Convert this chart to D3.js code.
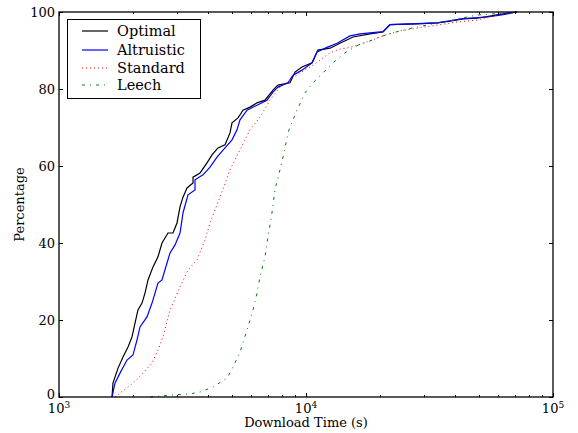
<!DOCTYPE html>
<html>
<head>
<meta charset="utf-8">
<script src="https://cdn.jsdelivr.net/npm/d3@7"></script>
<style>
  html, body { margin: 0; padding: 0; background: #fff; }
  svg { display: block; font-family: "DejaVu Serif", serif; }
</style>
</head>
<body>
<svg id="chart" width="578" height="433"></svg>
<script>
// Cumulative download-time distributions: [time in seconds, percentage]
const optimal = [
  [1639,0],[1654,3.6],[1734,7.5],[1816,10.4],[1903,13.0],[1975,15.6],[2031,19.2],
  [2088,22.6],[2168,24.4],[2229,27.0],[2293,30.4],[2402,33.8],[2516,36.4],[2612,40.0],
  [2763,42.6],[2894,42.6],[3004,45.2],[3090,49.4],[3177,51.9],[3298,54.3],[3488,55.6],
  [3488,57.1],[3724,58.2],[3974,60.8],[4164,62.9],[4403,64.7],[4700,65.5],[4924,68.6],
  [5017,71.2],[5306,72.5],[5559,74.5],[5934,75.3],[6334,76.4],[6823,77.1],[7350,79.7],
  [7700,81.0],[8614,81.6],[9027,84.4],[9634,85.7],[10580,86.8],[11180,90.1],[12510,90.6],
  [13730,91.9],[15500,93.5],[18160,94.3],[20500,94.8],[21880,96.7],[28140,96.9],
  [33920,97.2],[38280,97.6],[43220,98.2],[49240,98.4],[54060,98.8],[61010,99.4],[71500,100]
];
const altruistic = [
  [1639,0],[1685,3.6],[1766,6.2],[1885,9.6],[1993,10.9],[2069,14.8],[2128,18.2],
  [2271,20.8],[2380,24.4],[2516,29.6],[2612,30.4],[2737,34.8],[2815,37.4],[2949,39.5],
  [3090,42.6],[3177,47.8],[3329,52.5],[3553,53.8],[3553,56.4],[3828,57.7],[4087,59.7],
  [4362,62.3],[4700,64.7],[5017,66.8],[5256,69.4],[5406,72.0],[5770,74.5],[6334,75.8],
  [6951,77.1],[7350,79.2],[7700,80.5],[8454,81.6],[8860,83.6],[9634,84.9],[10580,86.8],
  [11080,89.6],[12160,90.8],[13360,91.9],[15070,93.8],[16550,94.3],[18160,94.6],
  [20500,94.9],[21880,96.7],[33920,97.2],[43220,98.3],[54060,98.7],[61010,99.2],[71500,100]
];
const standard = [
  [1685,0],[1993,3.6],[2188,6.2],[2380,8.8],[2516,12.2],[2636,15.6],[2815,22.6],
  [3090,28.6],[3329,33.0],[3620,35.6],[3901,40.8],[4087,45.2],[4485,51.9],[4924,59.0],
  [5406,64.2],[5934,69.4],[6514,72.7],[7148,77.1],[7846,80.5],[8614,82.3],[9456,84.2],
  [10380,85.7],[11390,87.5],[12510,89.4],[13730,90.4],[15070,90.8],[16550,91.6],
  [18160,92.5],[20500,93.8],[24020,95.1],[28140,95.8],[33920,96.6],[40870,97.4],
  [49240,97.9],[57170,99.0],[62740,99.7],[71500,100]
];
const leech = [
  [2336,0],[2815,0.5],[3392,0.8],[3724,1.3],[4203,2.6],[4789,4.9],[5064,7.8],[5406,11.7],
  [5770,17.4],[6102,22.6],[6334,27.0],[6514,31.2],[6823,36.4],[7016,41.6],[7281,47.8],
  [7488,53.8],[7846,59.0],[8068,62.3],[8222,64.7],[8454,68.6],[8614,70.1],[9196,74.5],
  [9908,79.0],[10670,81.6],[11720,84.2],[12860,86.8],[14390,89.4],[16240,91.4],
  [18160,92.5],[20500,93.8],[24020,95.1],[28140,96.1],[33920,97.1],[38280,97.7],
  [44860,98.7],[49240,99.2],[57170,99.5],[71500,100]
];

const seriesNames = ["Optimal", "Altruistic", "Standard", "Leech"];
const xMajorTicks = [1e3, 1e4, 1e5];
const xTickExponents = ["3", "4", "5"];
const yTicks = [0, 20, 40, 60, 80, 100];

const styles = [
  { color: "#000000", dash: null, width: 1.2 },
  { color: "#0000ff", dash: null, width: 1.2 },
  { color: "#ff0000", dash: "1,3", width: 1 },
  { color: "#008000", dash: "3,5,1,5", width: 1 }
];
const allSeries = [optimal, altruistic, standard, leech];

const svg = d3.select("#chart");
const m = { left: 59, right: 553, top: 12, bottom: 397 };

const x = d3.scaleLog().domain([1e3, 1e5]).range([m.left, m.right]);
const y = d3.scaleLinear().domain([0, 100]).range([m.bottom, m.top]);

// Curves
const line = d3.line().x(d => x(d[0])).y(d => y(d[1]));
const plot = svg.append("g");
allSeries.forEach((s, i) => {
  plot.append("path")
    .datum(s)
    .attr("fill", "none")
    .attr("stroke", styles[i].color)
    .attr("stroke-width", styles[i].width)
    .attr("stroke-dasharray", styles[i].dash)
    .attr("d", line);
});

// Ticks (inward, on all four sides)
const minorTicks = [];
[1e3, 1e4].forEach(d => { for (let k = 2; k <= 9; k++) minorTicks.push(d * k); });
const tg = svg.append("g").attr("stroke", "#000").attr("stroke-width", 1);
minorTicks.forEach(v => {
  const px = Math.round(x(v)) + 0.5;
  tg.append("line").attr("x1", px).attr("x2", px).attr("y1", m.bottom).attr("y2", m.bottom - 2);
  tg.append("line").attr("x1", px).attr("x2", px).attr("y1", m.top).attr("y2", m.top + 2);
});
xMajorTicks.forEach(v => {
  const px = Math.round(x(v)) + 0.5;
  tg.append("line").attr("x1", px).attr("x2", px).attr("y1", m.bottom).attr("y2", m.bottom - 4);
  tg.append("line").attr("x1", px).attr("x2", px).attr("y1", m.top).attr("y2", m.top + 4);
});
yTicks.forEach(v => {
  const py = Math.round(y(v)) + 0.5;
  tg.append("line").attr("x1", m.left).attr("x2", m.left + 4).attr("y1", py).attr("y2", py);
  tg.append("line").attr("x1", m.right).attr("x2", m.right - 4).attr("y1", py).attr("y2", py);
});

// Frame
svg.append("rect")
  .attr("x", m.left).attr("y", m.top)
  .attr("width", m.right - m.left).attr("height", m.bottom - m.top)
  .attr("fill", "none").attr("stroke", "#000").attr("stroke-width", 1.3);

// Tick labels
const xl = svg.append("g").attr("font-size", 13).attr("fill", "#000");
xMajorTicks.forEach((v, i) => {
  const t = xl.append("text").attr("x", x(v)).attr("y", 413).attr("text-anchor", "middle");
  t.append("tspan").text("10");
  t.append("tspan").attr("font-size", 9).attr("dy", -5).text(xTickExponents[i]);
});
yTicks.forEach(v => {
  svg.append("text")
    .attr("x", m.left - 4).attr("y", y(v) + (v === 0 ? 2 : 4.5))
    .attr("text-anchor", "end").attr("font-size", 13)
    .text(String(v));
});

// Axis titles
svg.append("text")
  .attr("x", (m.left + m.right) / 2).attr("y", 427)
  .attr("text-anchor", "middle").attr("font-size", 13)
  .text("Download Time (s)");
svg.append("text")
  .attr("transform", `translate(24,${(m.top + m.bottom) / 2}) rotate(-90)`)
  .attr("text-anchor", "middle").attr("font-size", 13)
  .text("Percentage");

// Legend
const lg = svg.append("g");
lg.append("rect")
  .attr("x", 67.5).attr("y", 19.5).attr("width", 133).attr("height", 79)
  .attr("fill", "#fff").attr("stroke", "#000").attr("stroke-width", 1);
const rowY = [31, 50, 68, 85];
seriesNames.forEach((name, i) => {
  lg.append("line")
    .attr("x1", 82).attr("x2", 108).attr("y1", rowY[i]).attr("y2", rowY[i])
    .attr("stroke", styles[i].color).attr("stroke-width", styles[i].width)
    .attr("stroke-dasharray", styles[i].dash);
  lg.append("text")
    .attr("x", 117).attr("y", rowY[i] + 5)
    .attr("font-size", 14.5)
    .text(name);
});
</script>
</body>
</html>
